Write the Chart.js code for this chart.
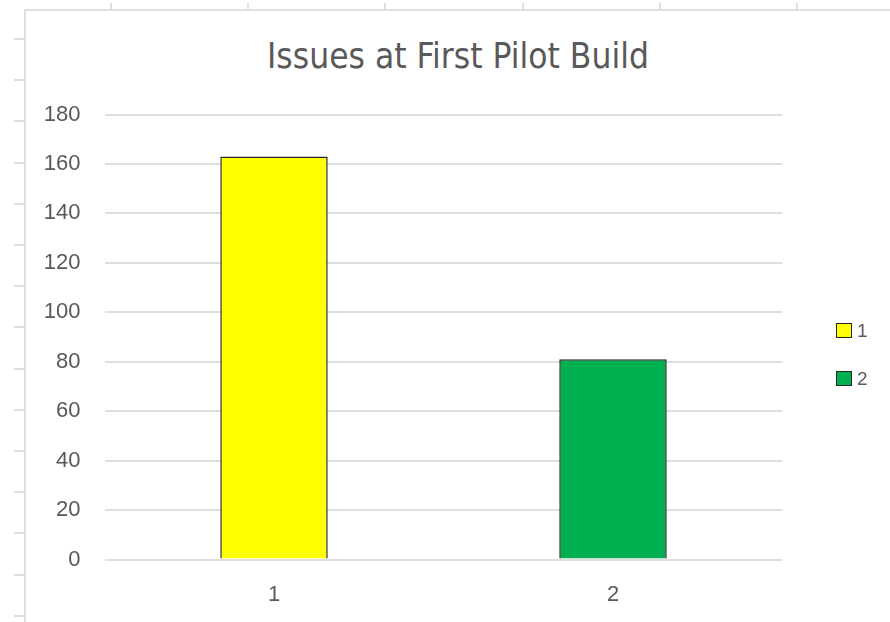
<!DOCTYPE html>
<html>
<head>
<meta charset="utf-8">
<title>Issues at First Pilot Build</title>
<script src="https://cdn.jsdelivr.net/npm/chart.js@4.4.1/dist/chart.umd.min.js"></script>
<style>
  html, body { margin: 0; padding: 0; background: #fff; }
  body { width: 890px; height: 622px; position: relative; overflow: hidden;
         font-family: "Liberation Sans", Arial, sans-serif; color: #595959; }
  /* sheet column / row markers around the chart object */
  .col-ticks { position: absolute; left: 0; top: 3px; width: 890px; height: 7px;
    background: repeating-linear-gradient(to right, transparent 0 110px, #dedede 110px 112px, transparent 112px 137.2px); }
  .row-ticks { position: absolute; left: 14px; top: 0; width: 11px; height: 622px;
    background: repeating-linear-gradient(to bottom, transparent 0 38px, #dedede 38px 40px, transparent 40px 41.2px); }
  .frame { position: absolute; left: 24px; top: 9px; right: 0; bottom: 0;
    border-left: 2px solid #e0e0e0; border-top: 2px solid #e0e0e0; }
  #wrap { position: absolute; left: 26px; top: 11px; width: 864px; height: 611px; }
  #title { position: absolute; left: 26px; right: 0; top: 39px; margin: 0; text-align: center;
    font: normal 35px/1 "Liberation Sans Narrow", "DejaVu Sans Condensed", sans-serif; color: #595959; }
  #legend { position: absolute; left: 836px; top: 323px; margin: 0; padding: 0; list-style: none;
    font-size: 19px; line-height: 15px; }
  #legend li { display: flex; align-items: center; height: 15px; margin-bottom: 33px; }
  #legend .swatch { box-sizing: border-box; width: 16px; height: 15px; border: 1.5px solid #262626; margin-right: 5px; }
</style>
</head>
<body>
<div class="col-ticks"></div>
<div class="row-ticks"></div>
<div class="frame"></div>
<h1 id="title"></h1>
<div id="wrap"><canvas id="issuesChart" width="864" height="611"></canvas></div>
<ul id="legend"></ul>
<script>
const chartTitle = 'Issues at First Pilot Build';
const categories = ['1', '2'];
const issueCounts = [163, 81];
const barColors = ['#FFFF00', '#00B050'];
const yMin = 0;
const yMax = 180;
const yStep = 20;

const textGray = '#595959';
const axisFont = { family: '"Liberation Sans", Arial, sans-serif', size: 22 };

document.getElementById('title').textContent = chartTitle;

// one legend entry per category, same colours as the bars
const legendEl = document.getElementById('legend');
categories.forEach((cat, i) => {
  const li = document.createElement('li');
  const sw = document.createElement('span');
  sw.className = 'swatch';
  sw.style.background = barColors[i];
  li.appendChild(sw);
  li.appendChild(document.createTextNode(cat));
  legendEl.appendChild(li);
});

new Chart(document.getElementById('issuesChart'), {
  type: 'bar',
  data: {
    labels: categories,
    datasets: [{
      data: issueCounts,
      backgroundColor: barColors,
      borderColor: '#262626',
      borderWidth: 1.5,
      barPercentage: 0.317,
      categoryPercentage: 1
    }]
  },
  options: {
    responsive: false,
    animation: false,
    devicePixelRatio: 1,
    layout: { padding: { top: 103.5, right: 107.5, bottom: 0, left: 0 } },
    plugins: {
      legend: { display: false },
      title: { display: false },
      tooltip: { enabled: false }
    },
    scales: {
      x: {
        grid: { display: false },
        border: { display: false },
        ticks: { color: textGray, font: axisFont, padding: 14 },
        afterFit: (s) => { s.height = 62.5; }
      },
      y: {
        min: yMin,
        max: yMax,
        grid: { color: '#dedede', lineWidth: 2, drawTicks: false },
        border: { display: false },
        ticks: { stepSize: yStep, color: textGray, font: axisFont, padding: 24 },
        afterFit: (s) => { s.width = 78.5; }
      }
    }
  }
});
</script>
</body>
</html>
